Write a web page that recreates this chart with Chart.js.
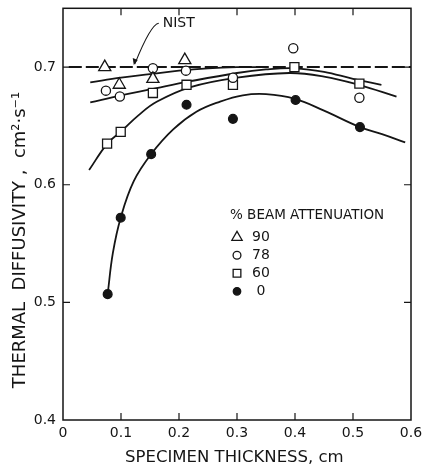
<!DOCTYPE html>
<html>
<head>
<meta charset="utf-8">
<script src="https://cdn.jsdelivr.net/npm/chart.js@4/dist/chart.umd.min.js"></script>
<style>
html, body { margin: 0; padding: 0; background: #fff; }
</style>
</head>
<body>
<canvas id="diffChart" width="422" height="469"></canvas>
<script>
// axis ticks
const xTicks = [0, 0.1, 0.2, 0.3, 0.4, 0.5, 0.6];
const xTickLabels = ['0', '0.1', '0.2', '0.3', '0.4', '0.5', '0.6'];
const yTicks = [0.4, 0.5, 0.6, 0.7];
const yTickLabels = ['0.4', '0.5', '0.6', '0.7'];

// % beam attenuation
const seriesNames = ['90', '78', '60', '0'];

// measured points
const att90X = [0.072, 0.097, 0.155, 0.210];
const att90Y = [0.700, 0.685, 0.690, 0.706];
const att78X = [0.074, 0.098, 0.155, 0.212, 0.293, 0.397, 0.511];
const att78Y = [0.680, 0.675, 0.699, 0.697, 0.691, 0.716, 0.674];
const att60X = [0.076, 0.0995, 0.155, 0.213, 0.293, 0.399, 0.511];
const att60Y = [0.635, 0.645, 0.678, 0.685, 0.685, 0.700, 0.686];
const att0X = [0.077, 0.0995, 0.152, 0.213, 0.293, 0.401, 0.512];
const att0Y = [0.507, 0.572, 0.626, 0.668, 0.656, 0.672, 0.649];

// fitted curves
const fit90X = [0.047, 0.10, 0.15, 0.20, 0.25, 0.30, 0.34];
const fit90Y = [0.687, 0.691, 0.694, 0.697, 0.699, 0.700, 0.700];
const fit78X = [0.047, 0.10, 0.15, 0.22, 0.30, 0.35, 0.40, 0.45, 0.50, 0.549];
const fit78Y = [0.670, 0.676, 0.681, 0.688, 0.695, 0.698, 0.699, 0.696, 0.690, 0.685];
const fit60X = [0.045, 0.0764, 0.0995, 0.13, 0.1615, 0.22, 0.30, 0.39, 0.45, 0.51, 0.575];
const fit60Y = [0.6125, 0.635, 0.645, 0.659, 0.6705, 0.683, 0.691, 0.695, 0.692, 0.685, 0.675];
const fit0X = [0.077, 0.086, 0.0995, 0.122, 0.152, 0.19, 0.23, 0.27, 0.31, 0.35, 0.40, 0.45, 0.512, 0.55, 0.59];
const fit0Y = [0.507, 0.542, 0.572, 0.603, 0.626, 0.647, 0.662, 0.6705, 0.676, 0.677, 0.673, 0.663, 0.649, 0.643, 0.636];

// NIST reference value
const nistX = [0.01, 0.6];
const nistY = [0.70, 0.70];

const ink = '#151515';
const fontFam = '"DejaVu Sans", Arial, sans-serif';

function pts(xs, ys) {
    return xs.map((x, i) => ({ x: x, y: ys[i] }));
}

const markers = [
    { style: 'triangle', r: 7, fill: '#fff' },
    { style: 'circle', r: 4.6, fill: '#fff' },
    { style: 'rect', r: 6.4, fill: '#fff' },
    { style: 'circle', r: 4.4, fill: ink }
];

function markerSet(xs, ys, m, name) {
    return {
        label: name,
        data: pts(xs, ys),
        showLine: false,
        pointStyle: m.style,
        pointRadius: m.r,
        pointHoverRadius: m.r,
        pointBackgroundColor: m.fill,
        pointBorderColor: ink,
        pointBorderWidth: 1.3
    };
}

function curveSet(xs, ys) {
    return {
        data: pts(xs, ys),
        showLine: true,
        borderColor: ink,
        borderWidth: 1.8,
        pointRadius: 0,
        tension: 0.4
    };
}

// frame, inward ticks, legend and NIST label
const frameAndNotes = {
    id: 'frameAndNotes',
    afterDraw(chart) {
        const { ctx, chartArea: a, scales: { x, y } } = chart;
        ctx.save();
        ctx.strokeStyle = ink;
        ctx.lineWidth = 1.5;
        ctx.strokeRect(a.left, a.top, a.right - a.left, a.bottom - a.top);

        ctx.lineWidth = 1.2;
        ctx.beginPath();
        xTicks.slice(1, -1).forEach(v => {
            const px = x.getPixelForValue(v);
            ctx.moveTo(px, a.bottom); ctx.lineTo(px, a.bottom - 7);
            ctx.moveTo(px, a.top); ctx.lineTo(px, a.top + 7);
        });
        yTicks.slice(1).forEach(v => {
            const py = y.getPixelForValue(v);
            ctx.moveTo(a.left, py); ctx.lineTo(a.left + 7, py);
            ctx.moveTo(a.right, py); ctx.lineTo(a.right - 7, py);
        });
        ctx.stroke();

        // legend
        ctx.fillStyle = ink;
        ctx.font = '13.5px ' + fontFam;
        ctx.textBaseline = 'middle';
        ctx.textAlign = 'left';
        ctx.fillText('% BEAM ATTENUATION', a.left + 167, a.top + 207);
        ctx.font = '14px ' + fontFam;
        ctx.textAlign = 'center';
        seriesNames.forEach((name, i) => {
            const m = markers[i];
            const ly = a.top + 229 + i * 18;
            ctx.fillStyle = m.fill;
            ctx.strokeStyle = ink;
            ctx.lineWidth = 1.3;
            Chart.helpers.drawPoint(ctx, { pointStyle: m.style, radius: m.r * 0.85, rotation: 0, borderWidth: 1.3 }, a.left + 174, ly);
            ctx.fillStyle = ink;
            ctx.fillText(name, a.left + 198, ly);
        });

        // NIST label with leader arrow
        const tipX = x.getPixelForValue(0.122);
        const tipY = y.getPixelForValue(nistY[0]) - 3;
        ctx.textAlign = 'left';
        ctx.font = '14px ' + fontFam;
        ctx.fillText('NIST', tipX + 29, a.top + 15);
        ctx.strokeStyle = ink;
        ctx.lineWidth = 1.1;
        ctx.beginPath();
        ctx.moveTo(tipX + 25, a.top + 15);
        ctx.quadraticCurveTo(tipX + 17, a.top + 16, tipX + 1, tipY);
        ctx.stroke();
        ctx.beginPath();
        ctx.moveTo(tipX, tipY + 1);
        ctx.lineTo(tipX - 1, tipY - 6);
        ctx.lineTo(tipX + 4, tipY - 4);
        ctx.closePath();
        ctx.fillStyle = ink;
        ctx.fill();
        ctx.restore();
    }
};

const ctx = document.getElementById('diffChart').getContext('2d');
new Chart(ctx, {
    type: 'scatter',
    data: {
        datasets: [
            markerSet(att90X, att90Y, markers[0], seriesNames[0]),
            markerSet(att78X, att78Y, markers[1], seriesNames[1]),
            markerSet(att60X, att60Y, markers[2], seriesNames[2]),
            markerSet(att0X, att0Y, markers[3], seriesNames[3]),
            curveSet(fit90X, fit90Y),
            curveSet(fit78X, fit78Y),
            curveSet(fit60X, fit60Y),
            curveSet(fit0X, fit0Y),
            {
                data: pts(nistX, nistY),
                showLine: true,
                borderColor: ink,
                borderWidth: 2,
                borderDash: [13, 4],
                pointRadius: 0
            }
        ]
    },
    options: {
        responsive: false,
        animation: false,
        layout: { padding: { left: 0, right: 11, top: 7, bottom: 0 } },
        plugins: { legend: { display: false }, tooltip: { enabled: false } },
        scales: {
            x: {
                type: 'linear',
                min: 0,
                max: 0.6,
                afterBuildTicks: s => { s.ticks = xTicks.map(v => ({ value: v })); },
                afterFit: s => { s.height = 49; s.paddingLeft = 0; s.paddingRight = 0; },
                grid: { display: false, drawTicks: false },
                border: { display: false },
                ticks: {
                    padding: 5,
                    autoSkip: false,
                    maxRotation: 0,
                    color: ink,
                    font: { size: 14, family: fontFam },
                    callback: (v, i) => xTickLabels[i]
                },
                title: {
                    display: true,
                    text: 'SPECIMEN THICKNESS, cm\u00a0',
                    color: ink,
                    font: { size: 16.5, family: fontFam },
                    padding: { top: 0, bottom: 1 }
                }
            },
            y: {
                type: 'linear',
                min: 0.4,
                max: 0.75,
                afterBuildTicks: s => { s.ticks = yTicks.map(v => ({ value: v })); },
                afterFit: s => { s.width = 63; s.paddingTop = 0; s.paddingBottom = 0; },
                grid: { display: false, drawTicks: false },
                border: { display: false },
                ticks: {
                    padding: 7,
                    color: ink,
                    font: { size: 14, family: fontFam },
                    callback: (v, i) => yTickLabels[i]
                },
                title: {
                    display: true,
                    text: 'THERMAL  DIFFUSIVITY ,  cm²·s⁻¹\u00a0\u00a0\u00a0\u00a0\u00a0\u00a0\u00a0\u00a0\u00a0',
                    color: ink,
                    font: { size: 18, family: fontFam },
                    padding: { top: 10, bottom: 0 }
                }
            }
        }
    },
    plugins: [frameAndNotes]
});
</script>
</body>
</html>
